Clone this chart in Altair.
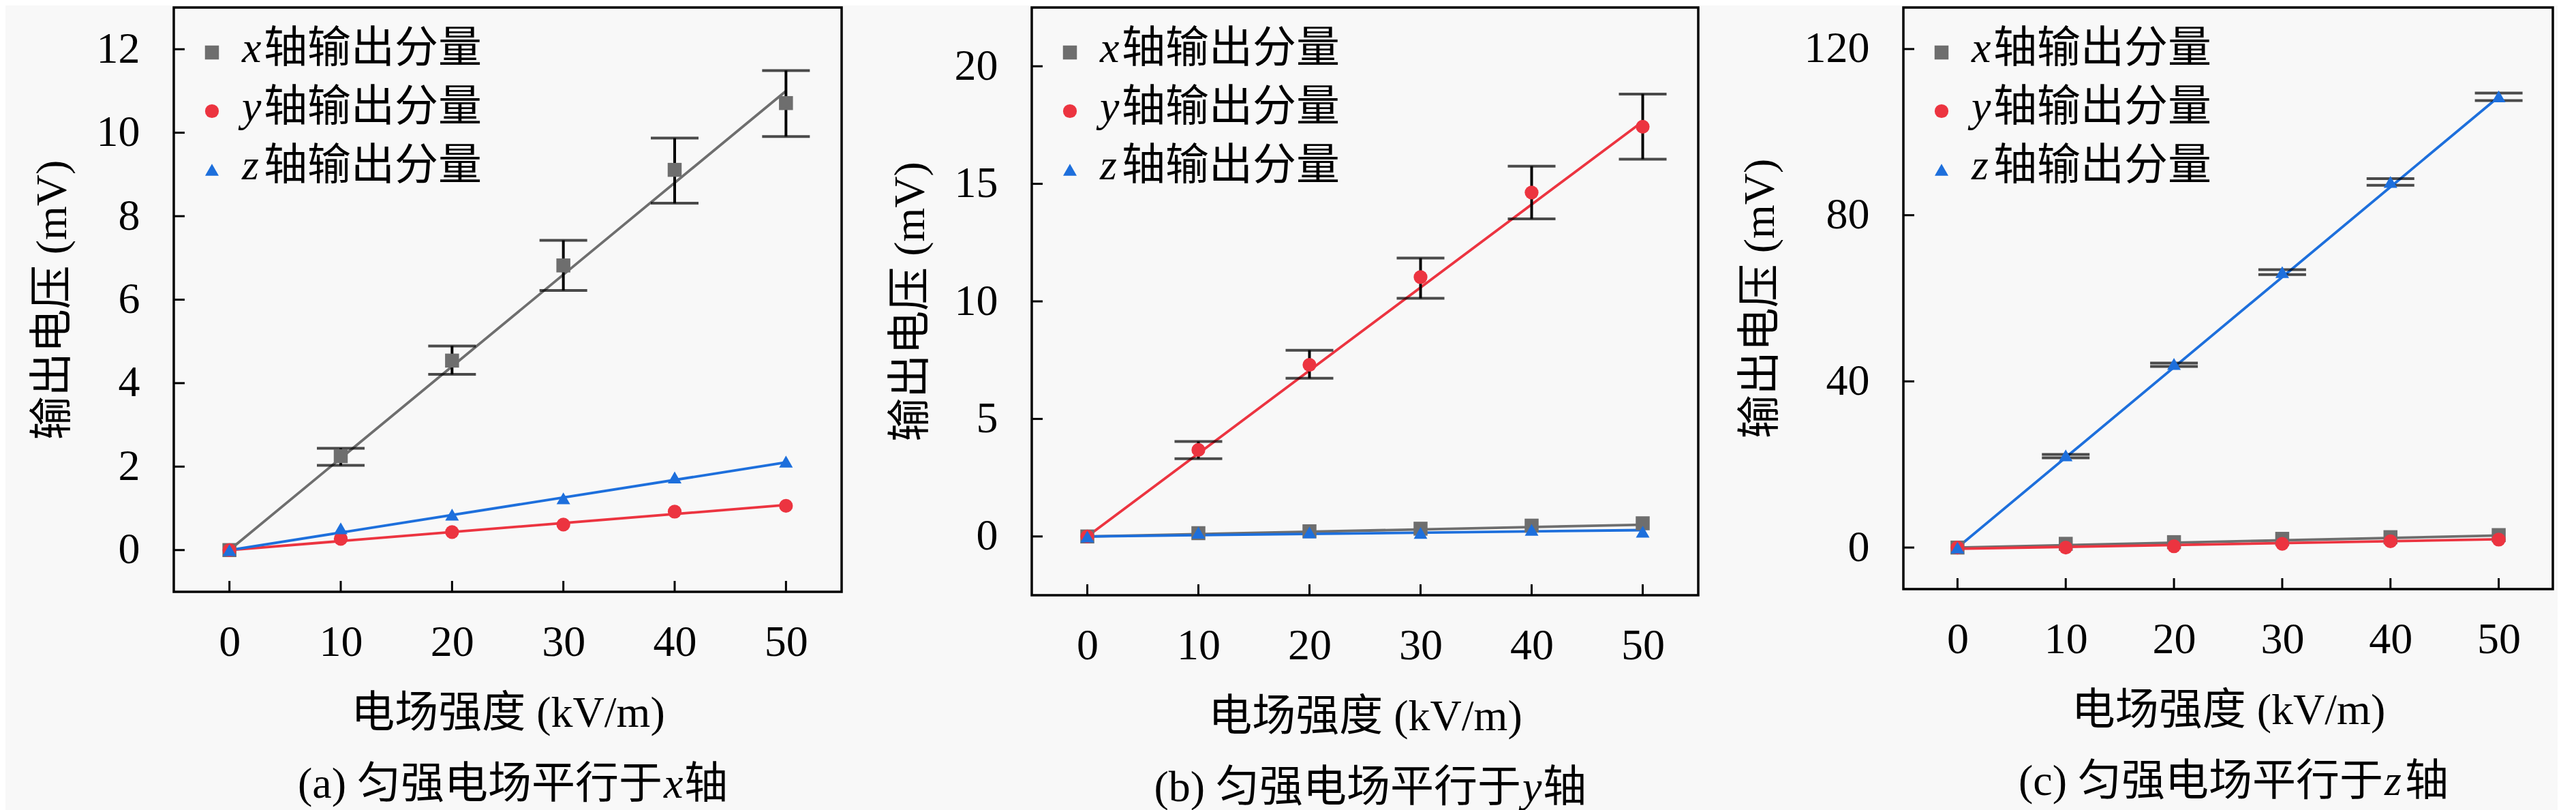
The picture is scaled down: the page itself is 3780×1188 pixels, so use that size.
import altair as alt
import pandas as pd

# ---------------- data ----------------
E = [0, 10, 20, 30, 40, 50]
SERIES = ["x", "y", "z"]
X_TICKS = [0, 10, 20, 30, 40, 50]
LEGEND_TEXT = "轴输出分量"
X_TITLE = "电场强度 (kV/m)"
Y_TITLE = "输出电压 (mV)"
CAPTION_HEAD = "匀强电场平行于"
CAPTION_TAIL = "轴"

# panel (a): field parallel to x
a_x = [0, 2.25, 4.54, 6.82, 9.11, 10.71]
a_y = [0, 0.27, 0.43, 0.61, 0.92, 1.06]
a_z = [0, 0.52, 0.85, 1.24, 1.74, 2.12]
a_err_E = [10, 20, 30, 40, 50]
a_err_lo = [2.03, 4.21, 6.22, 8.31, 9.91]
a_err_hi = [2.44, 4.89, 7.42, 9.87, 11.49]
a_fit_E = [0, 50]
a_fit_x = [0, 11.0]
a_fit_y = [0, 1.08]
a_fit_z = [0, 2.10]
a_ydomain = [-1, 13]
a_yticks = [0, 2, 4, 6, 8, 10, 12]

# panel (b): field parallel to y
b_x = [0, 0.14, 0.22, 0.33, 0.46, 0.56]
b_y = [0, 3.68, 7.30, 11.03, 14.63, 17.43]
b_z = [0, 0.16, 0.17, 0.15, 0.28, 0.20]
b_err_E = [10, 20, 30, 40, 50]
b_err_lo = [3.31, 6.73, 10.13, 13.51, 16.05]
b_err_hi = [4.04, 7.92, 11.84, 15.75, 18.82]
b_fit_E = [0, 50]
b_fit_x = [0, 0.50]
b_fit_y = [0, 17.65]
b_fit_z = [0, 0.27]
b_ydomain = [-2.5, 22.5]
b_yticks = [0, 5, 10, 15, 20]

# panel (c): field parallel to z
c_x = [0, 0.9, 1.3, 2.1, 2.5, 3.0]
c_y = [0, 0.0, 0.3, 0.9, 1.5, 1.9]
c_z = [0, 22.2, 44.2, 66.3, 88.0, 108.6]
c_err_E = [10, 20, 30, 40, 50]
c_err_lo = [21.6, 43.6, 65.7, 87.2, 107.6]
c_err_hi = [22.4, 44.4, 66.9, 88.8, 109.4]
c_fit_E = [0, 50]
c_fit_x = [0, 2.9]
c_fit_y = [-0.3, 2.0]
c_fit_z = [0, 108.5]
c_ydomain = [-10, 130]
c_yticks = [0, 40, 80, 120]

# ---------------- styling ----------------
FONT = "Liberation Serif, Noto Sans CJK SC"
LATIN = "Liberation Serif"
FS = 64
COLORS = ["#6e6e6e", "#ec3440", "#1d6fdc"]
SHAPES = ["square", "circle", "triangle-up"]
SIZES = [420, 400, 600]
BG = "#f8f8f8"


def panel(tag, letter, vals, errE, errlo, errhi, fitE, fits, ydom, yticks, W, H, cap_anchor):
    xs = alt.Scale(domain=[-5, 55], nice=False, zero=False)
    ys = alt.Scale(domain=ydom, nice=False, zero=False)
    xax = alt.Axis(values=X_TICKS, title=X_TITLE)
    yax = alt.Axis(values=yticks, title=Y_TITLE)
    color = alt.Color("S:N", scale=alt.Scale(domain=SERIES, range=COLORS), legend=None)
    shape = alt.Shape("S:N", scale=alt.Scale(domain=SERIES, range=SHAPES), legend=None)
    size = alt.Size("S:N", scale=alt.Scale(domain=SERIES, range=SIZES), legend=None)

    pts = pd.DataFrame({
        "E": E * 3,
        "V": vals[0] + vals[1] + vals[2],
        "S": [s for s in SERIES for _ in E],
    })
    fitdf = pd.DataFrame({
        "E": fitE * 3,
        "V": fits[0] + fits[1] + fits[2],
        "S": [s for s in SERIES for _ in fitE],
    })
    errdf = pd.DataFrame({"E": errE, "lo": errlo, "hi": errhi})

    xe = alt.X("E:Q", scale=xs, axis=xax)

    lines = alt.Chart(fitdf).mark_line(strokeWidth=3.8).encode(
        x=xe, y=alt.Y("V:Q", scale=ys, axis=yax), color=color, detail="S:N"
    )
    bars = alt.Chart(errdf).mark_rule(strokeWidth=4, color="black").encode(
        x=xe, y=alt.Y("lo:Q", scale=ys, axis=yax), y2="hi:Q"
    )
    cap_lo = alt.Chart(errdf).mark_tick(orient="horizontal", size=70, thickness=4, color="black").encode(
        x=xe, y=alt.Y("lo:Q", scale=ys, axis=yax)
    )
    cap_hi = alt.Chart(errdf).mark_tick(orient="horizontal", size=70, thickness=4, color="black").encode(
        x=xe, y=alt.Y("hi:Q", scale=ys, axis=yax)
    )
    points = alt.Chart(pts).mark_point(filled=True, opacity=1).encode(
        x=xe, y=alt.Y("V:Q", scale=ys, axis=yax),
        color=color, shape=shape, size=size,
    )

    # inward tick marks
    xt = alt.Chart(pd.DataFrame({"t": X_TICKS})).mark_rule(color="black", strokeWidth=3).encode(
        x=alt.X("t:Q", scale=xs, axis=xax), y=alt.value(H), y2=alt.value(H - 16)
    )
    yt = alt.Chart(pd.DataFrame({"t": yticks})).mark_rule(color="black", strokeWidth=3).encode(
        y=alt.Y("t:Q", scale=ys, axis=yax), x=alt.value(0), x2=alt.value(16)
    )

    layers = [lines, bars, cap_lo, cap_hi, points, xt, yt]

    # legend (drawn inside the plot, top-left)
    mark_y = [66, 152, 238]
    text_y = [80, 166, 252]
    for i, s in enumerate(SERIES):
        one = pd.DataFrame({"S": [s]})
        layers.append(alt.Chart(one).mark_point(filled=True, opacity=1).encode(
            x=alt.value(56), y=alt.value(mark_y[i]), color=color, shape=shape, size=size))
        layers.append(alt.Chart(one).mark_text(
            align="left", baseline="alphabetic", font=LATIN, fontStyle="italic", fontSize=FS, color="black"
        ).encode(x=alt.value(100), y=alt.value(text_y[i]), text="S:N"))
        layers.append(alt.Chart(one).mark_text(
            align="left", baseline="alphabetic", font=FONT, fontSize=FS, color="black"
        ).encode(x=alt.value(132), y=alt.value(text_y[i]), text=alt.value(LEGEND_TEXT)))

    # caption under the panel
    cap_y = H + 302
    one = pd.DataFrame({"k": [0]})
    layers.append(alt.Chart(one).mark_text(
        align="right", baseline="alphabetic", font=FONT, fontSize=FS, color="black"
    ).encode(x=alt.value(cap_anchor - 2), y=alt.value(cap_y), text=alt.value(f"({tag}) {CAPTION_HEAD}")))
    layers.append(alt.Chart(one).mark_text(
        align="left", baseline="alphabetic", font=LATIN, fontStyle="italic", fontSize=FS, color="black"
    ).encode(x=alt.value(cap_anchor), y=alt.value(cap_y), text=alt.value(letter)))
    layers.append(alt.Chart(one).mark_text(
        align="left", baseline="alphabetic", font=FONT, fontSize=FS, color="black"
    ).encode(x=alt.value(cap_anchor + 30), y=alt.value(cap_y), text=alt.value(CAPTION_TAIL)))

    return alt.layer(*layers).properties(width=W, height=H)


pa = panel("a", "x", [a_x, a_y, a_z], a_err_E, a_err_lo, a_err_hi, a_fit_E,
           [a_fit_x, a_fit_y, a_fit_z], a_ydomain, a_yticks, 980, 857, 719)
pb = panel("b", "y", [b_x, b_y, b_z], b_err_E, b_err_lo, b_err_hi, b_fit_E,
           [b_fit_x, b_fit_y, b_fit_z], b_ydomain, b_yticks, 978, 862, 720)
pc = panel("c", "z", [c_x, c_y, c_z], c_err_E, c_err_lo, c_err_hi, c_fit_E,
           [c_fit_x, c_fit_y, c_fit_z], c_ydomain, c_yticks, 953, 853, 706)

chart = (
    alt.hconcat(alt.hconcat(pa, pb, spacing=65), pc, spacing=55)
    .properties(padding={"left": 35, "top": 1, "right": 5, "bottom": 0}, background=BG)
    .configure_view(stroke="black", strokeWidth=3.5)
    .configure_axis(
        labelFont=LATIN, labelFontSize=FS, labelColor="black",
        titleFont=FONT, titleFontSize=FS, titleFontWeight="normal", titleColor="black",
        domain=False, ticks=False, grid=False, labelOverlap=False,
    )
    .configure_axisX(labelPadding=42, titlePadding=40)
    .configure_axisY(labelPadding=50, titlePadding=32)
)

chart.save("out.html", embed_options={"renderer": "svg", "actions": False})
